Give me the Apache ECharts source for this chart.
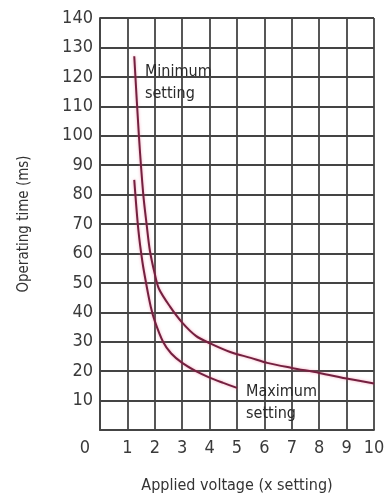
<!DOCTYPE html>
<html><head><meta charset="utf-8">
<script src="https://cdn.jsdelivr.net/npm/echarts@6/dist/echarts.min.js"></script>
<style>html,body{margin:0;padding:0;background:#fff}#c{width:392px;height:497px}</style>
</head><body><div id="c"></div>
<script>
// Data
const minSetting = [[1.25,127],[1.42,100],[1.58,80],[1.7,70],[1.82,61],[2.0,53],[2.15,48],[2.55,42],[3.0,36.5],[3.5,32],[4.0,29.5],[4.75,26.5],[5.5,24.5],[6.1,22.8],[7.0,21.1],[8.0,19.4],[9.1,17.3],[10,15.8]];
const maxSetting = [[1.25,85],[1.4,68],[1.55,57],[1.7,49],[1.85,42],[2.0,37],[2.3,30],[2.6,26],[3.0,22.8],[3.5,20],[4.0,17.8],[4.5,16],[5.0,14.3]];
const annotations = [
  {text:'Minimum\nsetting', x:1.64, y:125.5},
  {text:'Maximum\nsetting', x:5.33, y:16.8}
];
const xTitle = 'Applied voltage (x setting)';
const yTitle = 'Operating time (ms)';

const FONT = "'Liberation Sans Narrow','DejaVu Sans Condensed','Liberation Sans',sans-serif";
const GRID = '#444';
const LINE = '#74203f';

const chart = echarts.init(document.getElementById('c'), null, {renderer:'canvas'});
const lineStyle = {color: LINE, width: 2, shadowColor:'rgba(235,90,130,0.55)', shadowBlur:3};
chart.setOption({
  animation:false,
  backgroundColor:'#fff',
  grid:{left:100, top:18, right:18, bottom:67, show:false, containLabel:false, outerBoundsMode:'none'},
  xAxis:{
    type:'value', min:0, max:10, interval:1,
    name:xTitle, nameLocation:'middle', nameGap:48,
    nameTextStyle:{fontFamily:FONT, fontSize:16, color:'#333'},
    axisLine:{show:true, lineStyle:{color:GRID, width:1.8}},
    axisTick:{show:false},
    splitLine:{show:true, lineStyle:{color:GRID, width:1.8}},
    axisLabel:{fontFamily:FONT, fontSize:18, color:'#3a3a3a', margin:9,
      formatter:function(v){ return v===0 ? '{z|0}' : String(v); },
      rich:{z:{fontFamily:FONT, fontSize:18, color:'#3a3a3a', padding:[0,30,0,0]}}}
  },
  yAxis:{
    type:'value', min:0, max:140, interval:10,
    name:yTitle, nameLocation:'middle', nameGap:68, nameRotate:90,
    nameTextStyle:{fontFamily:FONT, fontSize:15, color:'#333'},
    axisLine:{show:true, lineStyle:{color:GRID, width:1.8}},
    axisTick:{show:false},
    splitLine:{show:true, lineStyle:{color:GRID, width:1.8}},
    axisLabel:{fontFamily:FONT, fontSize:18, color:'#3a3a3a', margin:7,
      formatter:function(v){ return v===0 ? '' : String(v); }}
  },
  series:[
    {type:'line', data:minSetting, smooth:0.3, symbol:'none', lineStyle:lineStyle, z:3},
    {type:'line', data:maxSetting, smooth:0.3, symbol:'none', lineStyle:lineStyle, z:3},
    {type:'scatter', symbolSize:0, z:4, itemStyle:{opacity:1},
     data:annotations.map(a=>({value:[a.x,a.y], name:a.text})),
     label:{show:true, position:[0,0], align:'left', verticalAlign:'top', opacity:1,
       formatter:p=>p.name, fontFamily:FONT, fontSize:16, lineHeight:22, color:'#2a2a2a'}}
  ]
});
</script></body></html>
